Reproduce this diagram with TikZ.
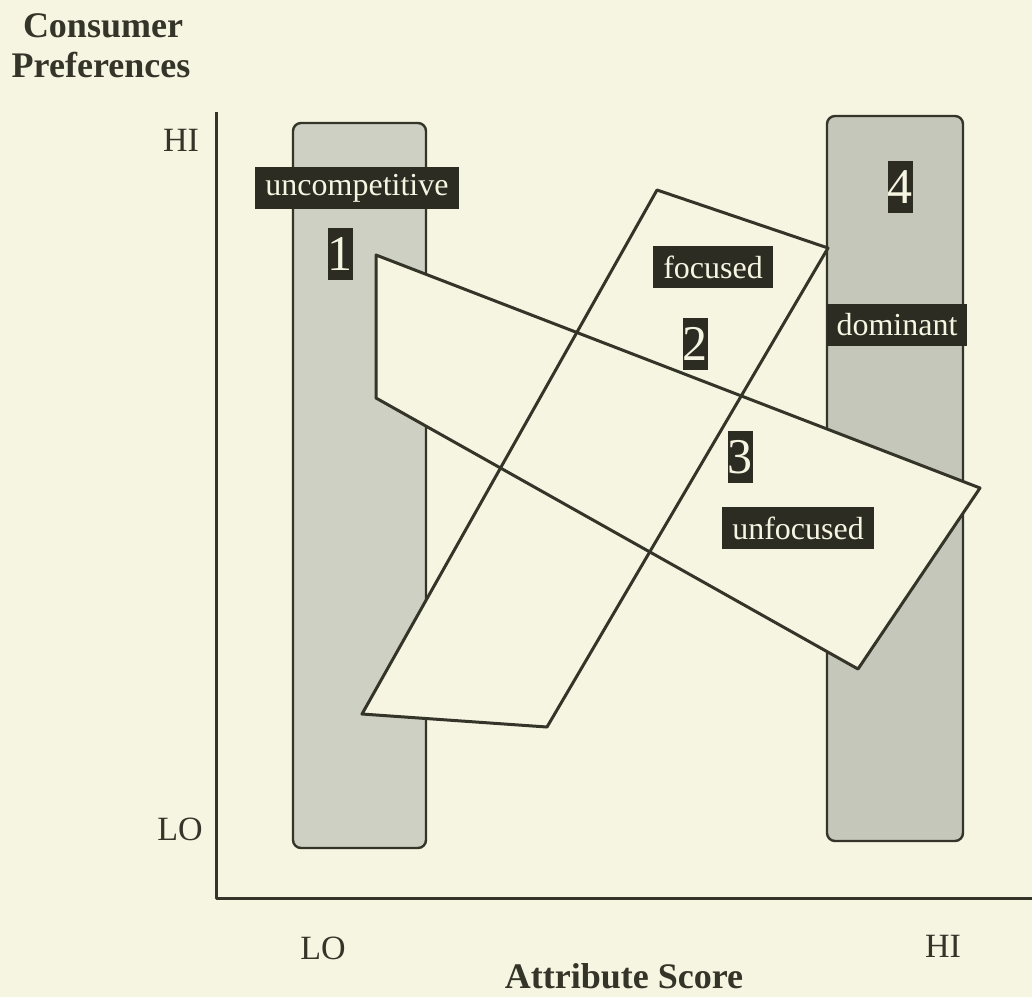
\documentclass[tikz,border=0pt]{standalone}
\usepackage{fontspec}
\setmainfont{Liberation Serif}
\usetikzlibrary{positioning}
\definecolor{paper}{RGB}{246,245,226}
\definecolor{ink}{RGB}{52,52,40}
\definecolor{barfill}{RGB}{206,208,195}
\definecolor{darkbar}{RGB}{196,199,186}
\definecolor{tagfill}{RGB}{45,44,34}

\begin{document}
\begin{tikzpicture}[
  x=0.5pt, y=-0.5pt,
  line join=round,
  bar/.style={draw=ink, line width=1.2pt, fill=barfill, rounded corners=4pt},
  zone/.style={draw=ink, line width=1.5pt},
  tag/.style={fill=tagfill, text=paper, font=\fontsize{16}{18}\selectfont, inner xsep=5pt, inner ysep=0pt, minimum height=21pt},
  num/.style={fill=tagfill, text=paper, font=\fontsize{25}{27}\selectfont, inner sep=0pt, minimum height=26pt, minimum width=12.5pt},
  ticklbl/.style={text=ink, font=\fontsize{17}{19}\selectfont},
  axtitle/.style={text=ink, font=\bfseries\fontsize{18}{20}\selectfont}
]
\fill[paper] (0,0) rectangle (1032,997);
\useasboundingbox (0,0) rectangle (1032,997);

% axes
\coordinate (origin) at (216,898);
\coordinate (ytop) at (216,112);
\coordinate (xend) at (1032,898);
\draw[ink, line width=1.5pt] (ytop) -- (origin) -- (xend);

% low and high bars
\draw[bar] (293,123) rectangle (426,848);
\draw[bar, fill=darkbar] (827,116) rectangle (963,841);

% the two zones
\coordinate (f1) at (657,190);
\coordinate (f2) at (828,248);
\coordinate (f3) at (547,727);
\coordinate (f4) at (362,714);
\coordinate (u1) at (376,255);
\coordinate (u2) at (980,488);
\coordinate (u3) at (858,669);
\coordinate (u4) at (376,398);
\fill[paper] (u1) -- (u2) -- (u3) -- (u4) -- cycle;
\fill[paper] (f1) -- (f2) -- (f3) -- (f4) -- cycle;
\draw[zone] (u1) -- (u2) -- (u3) -- (u4) -- cycle;
\draw[zone] (f1) -- (f2) -- (f3) -- (f4) -- cycle;

% labels
\node[tag] (uncomp) at (357,188) {uncompetitive};
\node[num] (one) at (340,254) {1};
\node[tag] (focus) at (713,267) {focused};
\node[num] (two) at (695,344) {2};
\node[num] (four) at (900,187) {4};
\node[tag] (domin) at (897,325) {dominant};
\node[num] (three) at (740,457) {3};
\node[tag] (unfocus) at (798,528) {unfocused};

% axis texts
\node[ticklbl] (yhi) at (181,140) {HI};
\node[ticklbl] (ylo) at (180,829) {LO};
\node[ticklbl] (xlo) at (323,948) {LO};
\node[ticklbl] (xhi) at (943,946) {HI};
\node[axtitle, anchor=base] (ytitle1) at (103,37) {Consumer};
\node[axtitle, anchor=base] (ytitle2) at (101,77) {Preferences};
\node[axtitle, anchor=base] (xtitle) at (624,988) {Attribute Score};
\end{tikzpicture}
\end{document}
